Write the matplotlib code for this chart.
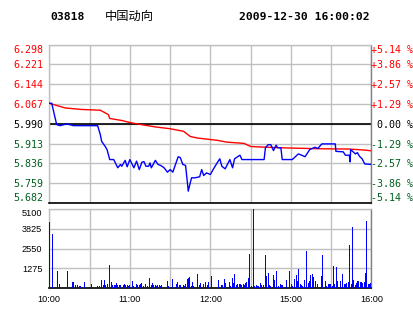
import matplotlib
matplotlib.use("Agg")
import matplotlib.pyplot as plt
import numpy as np

# header
code = "03818"
name = "中国动向"
stamp = "2009-12-30 16:00:02"

prev_close = 5.990
price_ticks = [5.682, 5.759, 5.836, 5.913, 5.990, 6.067, 6.144, 6.221, 6.298]
vol_ticks = [1275, 2550, 3825, 5100]
time_ticks = [0, 60, 120, 180, 240]
time_labels = ["10:00", "11:00", "12:00", "15:00", "16:00"]

# minutes since open, last price
price_t = [0, 1.8, 5.5, 8, 13, 18, 36, 38, 39, 41.5,
           43, 45, 48, 51, 53, 54, 56.5, 58, 60, 63,
           65, 67, 69, 70.5, 72, 74, 75, 76, 79, 81,
           83, 85.5, 88, 90, 92, 94, 96, 97.5, 99.5, 101.5,
           102.5, 103.5, 105, 106, 108.5, 112, 113.5, 115, 117, 120,
           122, 125, 127, 128.5, 131, 134.5, 136.5, 138, 142, 143.5,
           160, 161, 163, 165, 167, 169, 170, 172.5, 173.5, 181,
           185.5, 188, 190.5, 194, 198, 200, 203, 213, 213.5, 219,
           220.5, 223.5, 224, 224.5, 228, 229.5, 231, 233, 235, 240]
price = [6.070, 6.070, 5.987, 5.983, 5.990, 5.983, 5.983, 5.948, 5.922, 5.903,
         5.890, 5.851, 5.851, 5.819, 5.832, 5.825, 5.848, 5.823, 5.851, 5.819,
         5.845, 5.812, 5.841, 5.843, 5.825, 5.825, 5.838, 5.819, 5.848, 5.832,
         5.828, 5.819, 5.802, 5.812, 5.802, 5.832, 5.862, 5.859, 5.832, 5.828,
         5.780, 5.728, 5.761, 5.780, 5.780, 5.784, 5.812, 5.789, 5.799, 5.793,
         5.812, 5.838, 5.854, 5.825, 5.815, 5.851, 5.819, 5.854, 5.868, 5.851,
         5.851, 5.897, 5.909, 5.909, 5.886, 5.907, 5.897, 5.897, 5.851, 5.851,
         5.873, 5.868, 5.862, 5.890, 5.899, 5.894, 5.912, 5.912, 5.883, 5.881,
         5.868, 5.868, 5.842, 5.890, 5.873, 5.878, 5.864, 5.854, 5.834, 5.832]

# average price
avg_t = [0, 11.7, 24, 38, 44, 45, 54, 61, 71, 79, 90, 100,
         105, 110, 125, 132, 145, 150, 157, 178, 203, 223, 235, 240]
avg = [6.070, 6.052, 6.046, 6.043, 6.026, 6.011, 6.003, 5.994, 5.985, 5.978, 5.971, 5.961,
       5.941, 5.935, 5.926, 5.919, 5.914, 5.902, 5.900, 5.896, 5.893, 5.892, 5.888, 5.885]

# volume bars
vol_t = [0.5, 2.2, 6, 7.5, 13.4, 13.9, 17.1, 17.9, 19.4, 20.9, 22.4, 23.1, 26.1, 31.3,
         35.8, 37.3, 38.8, 40.3, 41, 41.8, 43.3, 44.7, 46.2, 47, 48.5, 49.2, 49.9, 50.7,
         52.2, 52.9, 55.2, 55.9, 56.6, 58.1, 58.9, 59.6, 61.9, 62.6, 64.8, 65.6, 67.1,
         67.8, 68.6, 70.1, 71.6, 73.0, 74.5, 76.0, 76.8, 77.5, 79.0, 79.7, 80.5, 82.0,
         82.7, 83.5, 87.9, 88.7, 91.7, 94.7, 95.4, 96.9, 97.6, 99.9, 100.6, 101.4, 102.9,
         103.6, 104.3, 105.8, 106.6, 107.3, 110.3, 111.8, 112.5, 114.8, 116.3, 117.8,
         118.8, 120.7, 126, 128.2, 129, 130.4, 131.2, 134.2, 134.9, 136.4, 137.1, 137.9,
         139.4, 140.1, 141.6, 142.4, 143.1, 144.6, 145.3, 146.1, 146.8, 148.3, 149.1,
         150.6, 152, 152.8, 154.3, 155.0, 155.8, 157.3, 158.0, 159.5, 161, 161.7, 163.2,
         164.0, 164.7, 167, 167.7, 169.2, 170.7, 172.2, 172.9, 173.7, 176.6, 178.9,
         180.4, 181.1, 182.6, 184.1, 184.8, 185.6, 187.1, 187.8, 188.6, 190.1, 191.5,
         193.0, 193.8, 194.5, 196, 196.8, 198.3, 199.7, 202.7, 203.5, 205.7, 206.5, 208,
         208.7, 209.4, 210.9, 211.7, 212.4, 213.9, 214.7, 216.9, 218.4, 219.9, 220.6,
         221.4, 222.9, 223.6, 225.1, 225.8, 226.6, 228.1, 228.8, 229.6, 230.3, 231.8,
         232.6, 233.3, 234.8, 235.5, 236.3, 237.8, 238.5, 239.3]
vol = [4290, 3470, 1110, 280, 1110, 130, 410, 410, 210, 210, 150, 150, 410, 280,
       150, 150, 540, 210, 540, 210, 280, 1500, 410, 210, 210, 210, 340, 210,
       210, 210, 210, 280, 210, 210, 150, 210, 470, 150, 280, 210, 210,
       280, 340, 150, 280, 150, 660, 210, 340, 210, 210, 150, 210, 210,
       150, 210, 470, 150, 600, 280, 410, 210, 210, 210, 150, 280, 600,
       660, 730, 150, 410, 150, 920, 210, 340, 280, 410, 210,
       410, 790, 540, 210, 210, 600, 340, 410, 150, 660, 340, 920,
       210, 280, 280, 280, 210, 280, 210, 340, 410, 660, 2210,
       150, 5100, 150, 210, 150, 150, 340, 210, 210, 2140, 790, 990,
       210, 150, 860, 540, 1110, 150, 280, 210, 210, 540, 1110,
       280, 150, 600, 860, 470, 1240, 280, 210, 150, 540, 2400,
       340, 470, 860, 920, 730, 470, 280, 790, 2140, 470, 150, 280,
       280, 280, 150, 1440, 280, 1370, 470, 470, 920, 280, 280,
       340, 410, 2790, 280, 3940, 540, 210, 340, 470, 470, 410,
       410, 340, 410, 990, 4330, 280, 280, 340]

RED = "#ff0000"
GREEN = "#005f1e"
GRID = "#c0c0c0"
W, H = 414, 314

fig = plt.figure(figsize=(W / 100, H / 100), dpi=100)
fig.patch.set_facecolor("white")


def frac(x0, y0, x1, y1):
    return [x0 / W, 1 - y1 / H, (x1 - x0) / W, (y1 - y0) / H]


def style_frame(ax):
    ax.spines["left"].set_color(GRID)
    ax.spines["top"].set_color(GRID)
    ax.spines["right"].set_color("#808080")
    ax.spines["bottom"].set_color("black")
    ax.spines["bottom"].set_linewidth(1.2)
    for s in ["left", "top", "right"]:
        ax.spines[s].set_linewidth(1.0)
    ax.grid(True, color=GRID, linewidth=1.0)
    ax.set_axisbelow(True)
    ax.tick_params(length=0)


def tick_color(v):
    if abs(v - prev_close) < 1e-9:
        return "black"
    return RED if v > prev_close else GREEN


# price panel
ax = fig.add_axes(frac(49.3, 44.7, 371.5, 203))
ax.plot(avg_t, avg, color=RED, lw=1.0, zorder=3)
ax.plot(price_t, price, color="#0000ff", lw=1.0, zorder=4)
ax.axhline(prev_close, color="black", lw=1.2, zorder=2)
ax.set_xlim(0, 240)
ax.set_ylim(price_ticks[0], price_ticks[-1])
ax.set_xticks(np.arange(0, 241, 30))
ax.set_xticklabels([])
ax.set_yticks(price_ticks)
ax.set_yticklabels(["%.3f" % v for v in price_ticks], family="DejaVu Sans Mono", fontsize=7.2)
style_frame(ax)
ax.tick_params(axis="y", pad=4)

ax2 = ax.twinx()
ax2.set_ylim(ax.get_ylim())
ax2.set_yticks(price_ticks)
pct_labels = []
for v in price_ticks:
    pct = (v / prev_close - 1) * 100
    if abs(pct) < 0.005:
        pct_labels.append(" 0.00 %")
    else:
        pct_labels.append("%+.2f %%" % pct)
ax2.set_yticklabels(pct_labels, family="DejaVu Sans Mono", fontsize=7.2)
ax2.tick_params(length=0, pad=0)
for s in ax2.spines.values():
    s.set_visible(False)

for a in (ax, ax2):
    labs = a.get_yticklabels()
    for lab, v in zip(labs, price_ticks):
        lab.set_color(tick_color(v))
    labs[0].set_va("bottom")
    labs[-1].set_va("top")

# volume panel
axv = fig.add_axes(frac(49.3, 209, 371.5, 288.3))
axv.bar(vol_t, vol, width=0.75, color="#0000ff", linewidth=0, zorder=3)
axv.set_xlim(0, 240)
axv.set_ylim(0, 5100)
axv.set_yticks([0] + vol_ticks)
axv.set_yticklabels([""] + [str(v) for v in vol_ticks], family="Liberation Sans", fontsize=6.6)
axv.set_xticks(np.arange(0, 241, 30))
axv.set_xticklabels([time_labels[time_ticks.index(t)] if t in time_ticks else "" for t in range(0, 241, 30)],
                    family="Liberation Sans", fontsize=6.6)
style_frame(axv)
axv.tick_params(axis="y", pad=5)
axv.tick_params(axis="x", pad=5)
axv.get_yticklabels()[-1].set_va("top")

# header texts
fig.text(50 / W, 1 - 17 / H, code, family="DejaVu Sans Mono", fontweight="bold", fontsize=8.2, va="center")
fig.text(105 / W, 1 - 16 / H, name, family=["Noto Sans CJK SC", "DejaVu Sans"], fontsize=8.8, va="center")
fig.text(370 / W, 1 - 17 / H, stamp, family="DejaVu Sans Mono", fontweight="bold", fontsize=8.2,
         va="center", ha="right")

fig.savefig("out.png", dpi=100)
